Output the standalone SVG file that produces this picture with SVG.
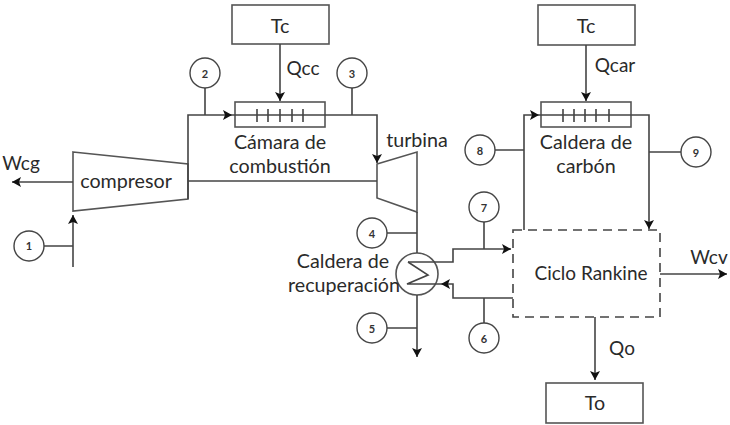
<svg xmlns="http://www.w3.org/2000/svg" width="730" height="425" viewBox="0 0 730 425">
<style>
.l{fill:none;stroke:#444;stroke-width:1.6}
.s{fill:#fff;stroke:#555;stroke-width:1.6}
.c{fill:#fff;stroke:#444;stroke-width:1.4}
.d{fill:none;stroke:#444;stroke-width:1.6;stroke-dasharray:9 6}
text{font-family:Lato,"Open Sans",sans-serif;font-size:19.7px;fill:#2a2a2a;text-anchor:middle}
.q{font-size:19px}
.n{font-size:11px;font-weight:700;fill:#333}
</style>
<defs>
<marker id="a" markerUnits="userSpaceOnUse" markerWidth="11" markerHeight="11" refX="9" refY="5" orient="auto"><path d="M0 0L9 5L0 10L2 5Z" fill="#111"/></marker>
</defs>
<rect width="730" height="425" fill="#fff"/>
<g id="compresor"><path class="s" d="M73 152L188 164V199L73 211Z"/><text x="126" y="188">compresor</text></g>
<g id="turbina"><path class="s" d="M377 164L417 152V212L377 198Z"/><text x="417" y="147">turbina</text></g>
<g id="fuente-tc1"><rect class="s" x="232" y="5" width="97" height="39"/><text x="280" y="33">Tc</text></g>
<g id="fuente-tc2"><rect class="s" x="538" y="5" width="97" height="40"/><text x="586" y="33">Tc</text></g>
<g id="sumidero-to"><rect class="s" x="546" y="383" width="97" height="40"/><text x="595" y="410">To</text></g>
<g id="camara"><rect class="s" x="235" y="102" width="90" height="25"/><text x="280" y="149">Cámara de</text><text x="280" y="173">combustión</text></g>
<g id="caldera-carbon"><rect class="s" x="541" y="102" width="90" height="25"/><text x="586" y="149">Caldera de</text><text x="586" y="173">carbón</text></g>
<g id="ciclo-rankine"><rect class="d" x="513" y="230" width="147" height="87"/><text class="q" x="591" y="280">Ciclo Rankine</text></g>
<g id="caldera-recuperacion"><circle class="s" cx="417" cy="274" r="21"/><text x="343" y="268">Caldera de</text><text x="344" y="292">recuperación</text></g>
<g id="connectors">
<path class="l" d="M188 199V115H232" marker-end="url(#a)"/>
<path class="l" d="M232 115H377V163" marker-end="url(#a)"/>
<path class="l" d="M188 181H377"/>
<path class="l" d="M73 182H12" marker-end="url(#a)"/>
<path class="l" d="M73 267V215" marker-end="url(#a)"/>
<path class="l" d="M280 44V101" marker-end="url(#a)"/>
<path class="l" d="M586 45V101" marker-end="url(#a)"/>
<path class="l" d="M257 109V122M268 109V122M280 109V122M292 109V122M303 109V122M563 109V122M574 109V122M585 109V122M596 109V122M609 109V122"/>
<path class="l" d="M524 230V115H539" marker-end="url(#a)"/>
<path class="l" d="M539 115H649V229" marker-end="url(#a)"/>
<path class="l" d="M205 88V115M352 88V115M44 246H73M387 233H417M387 328H417M495 150H524M681 152H649M484 222V249M484 323V298"/>
<path class="l" d="M417 212V253M417 295V357" marker-end="url(#a)"/>
<path class="l" d="M408 262H453V249H511" marker-end="url(#a)"/>
<path class="l" d="M513 298H453V284H441" marker-end="url(#a)"/>
<path class="l" d="M408 262L428 275L407 284H441"/>
<path class="l" d="M660 274H727" marker-end="url(#a)"/>
<path class="l" d="M595 317V380" marker-end="url(#a)"/>
</g>
<g id="estado-1"><circle class="c" cx="29" cy="246" r="15"/><text class="n" x="29" y="250">1</text></g>
<g id="estado-2"><circle class="c" cx="205" cy="73" r="15"/><text class="n" x="205" y="78">2</text></g>
<g id="estado-3"><circle class="c" cx="352" cy="73" r="15"/><text class="n" x="352" y="78">3</text></g>
<g id="estado-4"><circle class="c" cx="372" cy="233" r="15"/><text class="n" x="372" y="238">4</text></g>
<g id="estado-5"><circle class="c" cx="372" cy="328" r="15"/><text class="n" x="372" y="333">5</text></g>
<g id="estado-6"><circle class="c" cx="484" cy="338" r="15"/><text class="n" x="484" y="343">6</text></g>
<g id="estado-7"><circle class="c" cx="484" cy="207" r="15"/><text class="n" x="484" y="212">7</text></g>
<g id="estado-8"><circle class="c" cx="480" cy="150" r="15"/><text class="n" x="480" y="155">8</text></g>
<g id="estado-9"><circle class="c" cx="696" cy="152" r="15"/><text class="n" x="696" y="157">9</text></g>
<g id="etiquetas">
<text class="q" x="303" y="75">Qcc</text>
<text class="q" x="615" y="72">Qcar</text>
<text class="q" x="21" y="170">Wcg</text>
<text class="q" x="709" y="264">Wcv</text>
<text class="q" x="622" y="355">Qo</text>
</g>
</svg>
